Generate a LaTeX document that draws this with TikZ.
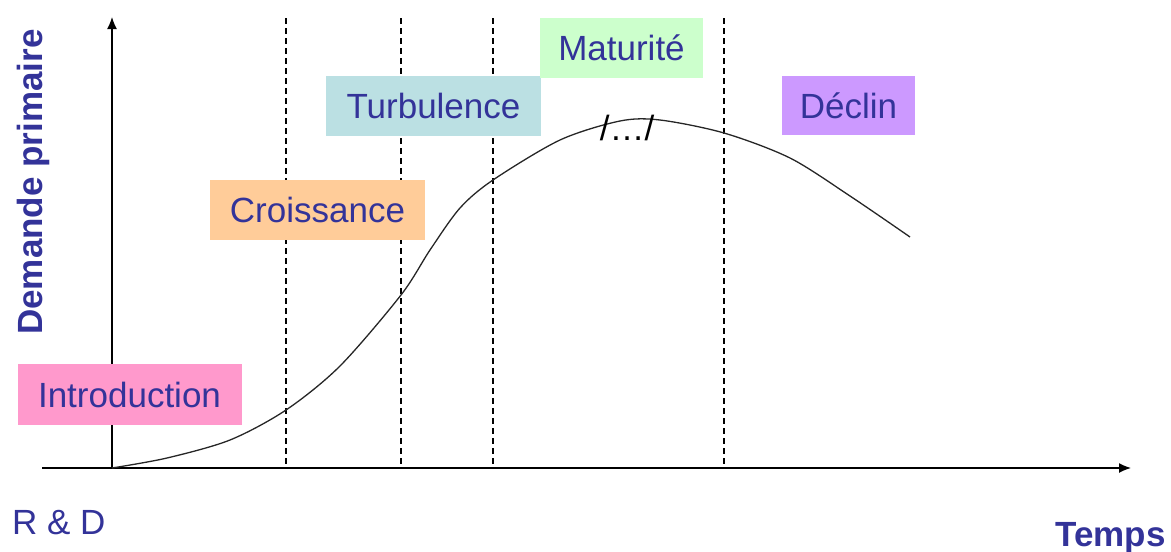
\documentclass[tikz,border=0pt]{standalone}
\usepackage{fontspec}
\setmainfont{Liberation Sans}
\usetikzlibrary{positioning,arrows.meta}
\definecolor{textblue}{HTML}{333399}
\definecolor{intropink}{HTML}{FF99CC}
\definecolor{croissorange}{HTML}{FFCC99}
\definecolor{turbteal}{HTML}{BBE0E3}
\definecolor{matgreen}{HTML}{CCFFCC}
\definecolor{declinviolet}{HTML}{CC99FF}

\begin{document}
\begin{tikzpicture}[
		x=1pt, y=-1pt, >={Latex[length=12pt,width=10pt]}, line cap=butt,
		phase/.style={
			text=textblue,
			font=\fontsize{35}{40}\selectfont,
			inner sep=0pt,
			text height=25pt,
			text depth=0pt
		},
		axislabel/.style={
			text=textblue,
			font=\fontsize{35}{40}\selectfont,
			inner sep=0pt
		}
	]
	\useasboundingbox (0,0) rectangle (1171,552);
	% axes
	\coordinate (origin) at (112,468);
	\coordinate (ytip) at (112,17);
	\coordinate (xstart) at (42,468);
	\coordinate (xtip) at (1131,468);
	\draw[->, line width=1.4pt] (origin) -- (ytip);
	\draw[->, line width=1.4pt] (xstart) -- (xtip);
	% phase limits
	\foreach \x in {286,401,493,724}
		\draw[line width=1.1pt, dash pattern=on 6pt off 4pt] (\x,18) -- (\x,468);
	% demand curve
	\draw[line width=1.3pt, black!85]
		plot[smooth, tension=0.5] coordinates {
			(112,468) (167,458) (230,440) (286,410) (340,366) (401,295)
			(430,250) (460,208) (493,180) (560,140) (620,121) (660,120) (724,133)
			(790,158) (850,196) (910,237)};
	% phases
	\node[phase, fill=intropink, minimum width=224pt, minimum height=61pt]
		(intro) at (129.5,394.5) {Introduction};
	\node[phase, fill=croissorange, minimum width=215pt, minimum height=60pt]
		(croissance) at (317.5,209.5) {Croissance};
	\node[phase, fill=turbteal, minimum width=215pt, minimum height=60pt]
		(turbulence) at (433.5,106) {Turbulence};
	\node[phase, fill=matgreen, minimum width=163pt, minimum height=60pt]
		(maturite) at (621.5,47.5) {Maturité};
	\node[phase, fill=declinviolet, minimum width=133pt, minimum height=59pt]
		(declin) at (848.5,105.5) {Déclin};
	\node[axislabel, text=black, anchor=base] (ellipse) at (627,140) {/…/};
	% axis labels
	\node[axislabel, anchor=base west] (rd) at (12,534) {R \& D};
	\node[axislabel, font=\fontsize{35}{40}\selectfont\bfseries, anchor=base east]
		(temps) at (1166,546) {Temps};
	\node[axislabel, font=\fontsize{35}{40}\selectfont\bfseries, rotate=90, anchor=base west]
		(demande) at (42,335) {Demande primaire};
\end{tikzpicture}
\end{document}
